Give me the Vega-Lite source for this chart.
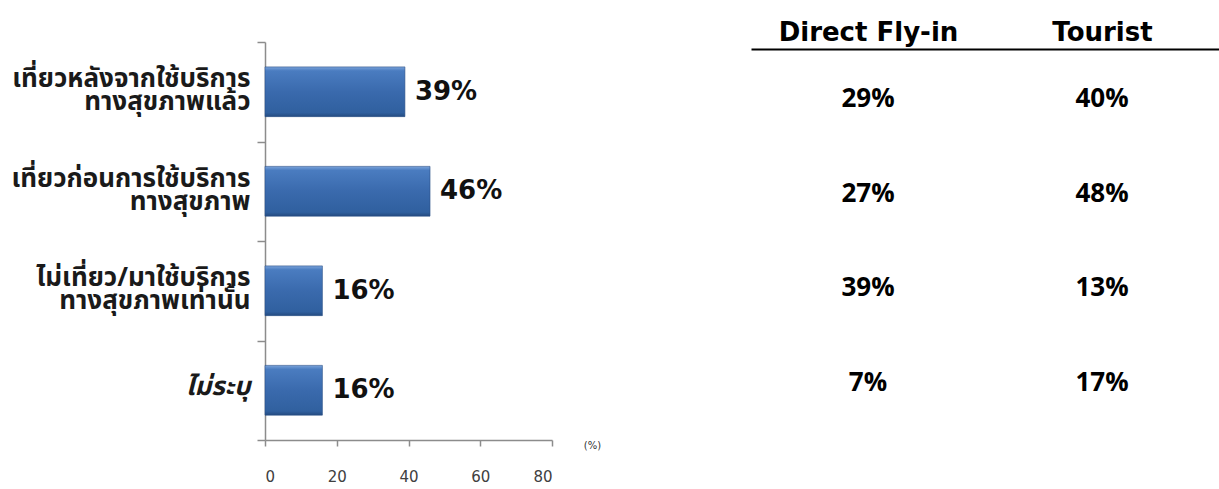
{
  "$schema": "https://vega.github.io/schema/vega-lite/v6.json",
  "background": "white",
  "padding": {"left": 10, "top": 19, "right": 0, "bottom": 0},
  "bounds": "flush",
  "spacing": 199,
  "config": {"view": {"stroke": null}},
  "datasets": {
    "bars": [
      {"category": "เที่ยวหลังจากใช้บริการ|ทางสุขภาพแล้ว", "share": 0.39},
      {"category": "เที่ยวก่อนการใช้บริการ|ทางสุขภาพ", "share": 0.46},
      {"category": "ไม่เที่ยว/มาใช้บริการ|ทางสุขภาพเท่านั้น", "share": 0.16},
      {"category": "ไม่ระบุ", "share": 0.16}
    ],
    "table": [
      {"category": "เที่ยวหลังจากใช้บริการ|ทางสุขภาพแล้ว", "group": "Direct Fly-in", "share": 0.29},
      {"category": "เที่ยวหลังจากใช้บริการ|ทางสุขภาพแล้ว", "group": "Tourist", "share": 0.40},
      {"category": "เที่ยวก่อนการใช้บริการ|ทางสุขภาพ", "group": "Direct Fly-in", "share": 0.27},
      {"category": "เที่ยวก่อนการใช้บริการ|ทางสุขภาพ", "group": "Tourist", "share": 0.48},
      {"category": "ไม่เที่ยว/มาใช้บริการ|ทางสุขภาพเท่านั้น", "group": "Direct Fly-in", "share": 0.39},
      {"category": "ไม่เที่ยว/มาใช้บริการ|ทางสุขภาพเท่านั้น", "group": "Tourist", "share": 0.13},
      {"category": "ไม่ระบุ", "group": "Direct Fly-in", "share": 0.07},
      {"category": "ไม่ระบุ", "group": "Tourist", "share": 0.17}
    ]
  },
  "hconcat": [
    {
      "width": 287,
      "height": 398,
      "data": {"name": "bars"},
      "encoding": {
        "y": {
          "field": "category",
          "type": "nominal",
          "sort": null,
          "scale": {"paddingInner": 0, "paddingOuter": 0},
          "axis": {
            "title": null,
            "tickBand": "extent",
            "labelExpr": "datum.value == null ? '' : split(datum.value, '|')",
            "labelFont": "Noto Sans Thai, Tahoma, sans-serif",
            "labelFontSize": 26,
            "labelFontWeight": "bold",
            "labelColor": "#1a1a1a",
            "labelLineHeight": 23,
            "labelPadding": 7,
            "labelLimit": 400,
            "labelOffset": {"condition": {"test": "isString(datum.value) && indexof(datum.value, '|') >= 0", "value": -13}, "value": -4},
            "labelFontStyle": {"condition": {"test": "datum.value === 'ไม่ระบุ'", "value": "italic"}, "value": "normal"},
            "tickSize": 8,
            "domainColor": "#8c8c8c",
            "tickColor": "#8c8c8c",
            "domainWidth": 1.5,
            "tickWidth": 1.5
          }
        }
      },
      "layer": [
        {
          "mark": {
            "type": "bar",
            "height": {"band": 0.5},
            "stroke": "#2a4f86",
            "strokeWidth": 0.6,
            "color": {
              "gradient": "linear",
              "x1": 0, "y1": 0, "x2": 0, "y2": 1,
              "stops": [
                {"offset": 0, "color": "#7aa3da"},
                {"offset": 0.08, "color": "#4a7cc0"},
                {"offset": 0.5, "color": "#3a6aad"},
                {"offset": 0.92, "color": "#30609f"},
                {"offset": 1, "color": "#244b80"}
              ]
            }
          },
          "encoding": {
            "x": {
              "field": "share",
              "type": "quantitative",
              "scale": {"domain": [0, 0.8], "nice": false},
              "axis": {
                "values": [0, 0.2, 0.4, 0.6, 0.8],
                "labelExpr": "round(datum.value * 100)",
                "grid": false,
                "labelFont": "DejaVu Sans",
                "labelFontSize": 15,
                "labelColor": "#404040",
                "labelPadding": 23,
                "tickSize": 6,
                "tickColor": "#8c8c8c",
                "domainColor": "#8c8c8c",
                "domainWidth": 1.5,
                "tickWidth": 1.5,
                "title": "(%)",
                "titleX": 327,
                "titleY": 5,
                "titleAlign": "center",
                "titleBaseline": "middle",
                "titleAngle": 0,
                "titleFont": "DejaVu Sans",
                "titleFontSize": 10,
                "titleFontWeight": "normal",
                "titleColor": "#333333"
              }
            }
          }
        },
        {
          "mark": {
            "type": "text",
            "align": "left",
            "baseline": "middle",
            "dx": 10,
            "font": "DejaVu Sans",
            "fontWeight": "bold",
            "fontSize": 26,
            "color": "#111111"
          },
          "encoding": {
            "x": {"field": "share", "type": "quantitative"},
            "text": {"field": "share", "type": "quantitative", "format": ".0%"}
          }
        }
      ]
    },
    {
      "width": 468,
      "height": 398,
      "data": {"name": "table"},
      "mark": {
        "type": "text",
        "align": "center",
        "baseline": "middle",
        "font": "Open Sans",
        "fontWeight": "bold",
        "fontSize": 26,
        "color": "#000000"
      },
      "encoding": {
        "x": {
          "field": "group",
          "type": "nominal",
          "sort": ["Direct Fly-in", "Tourist"],
          "scale": {"padding": 0.5},
          "axis": {
            "orient": "top",
            "title": null,
            "labelAngle": 0,
            "ticks": false,
            "offset": -7,
            "domainColor": "#000000",
            "domainWidth": 2,
            "labelFont": "DejaVu Sans",
            "labelFontWeight": "bold",
            "labelFontSize": 26,
            "labelColor": "#000000",
            "labelPadding": 4
          }
        },
        "y": {
          "field": "category",
          "type": "nominal",
          "sort": null,
          "scale": {"padding": 0.6},
          "axis": null
        },
        "text": {"field": "share", "type": "quantitative", "format": ".0%"}
      }
    }
  ]
}
